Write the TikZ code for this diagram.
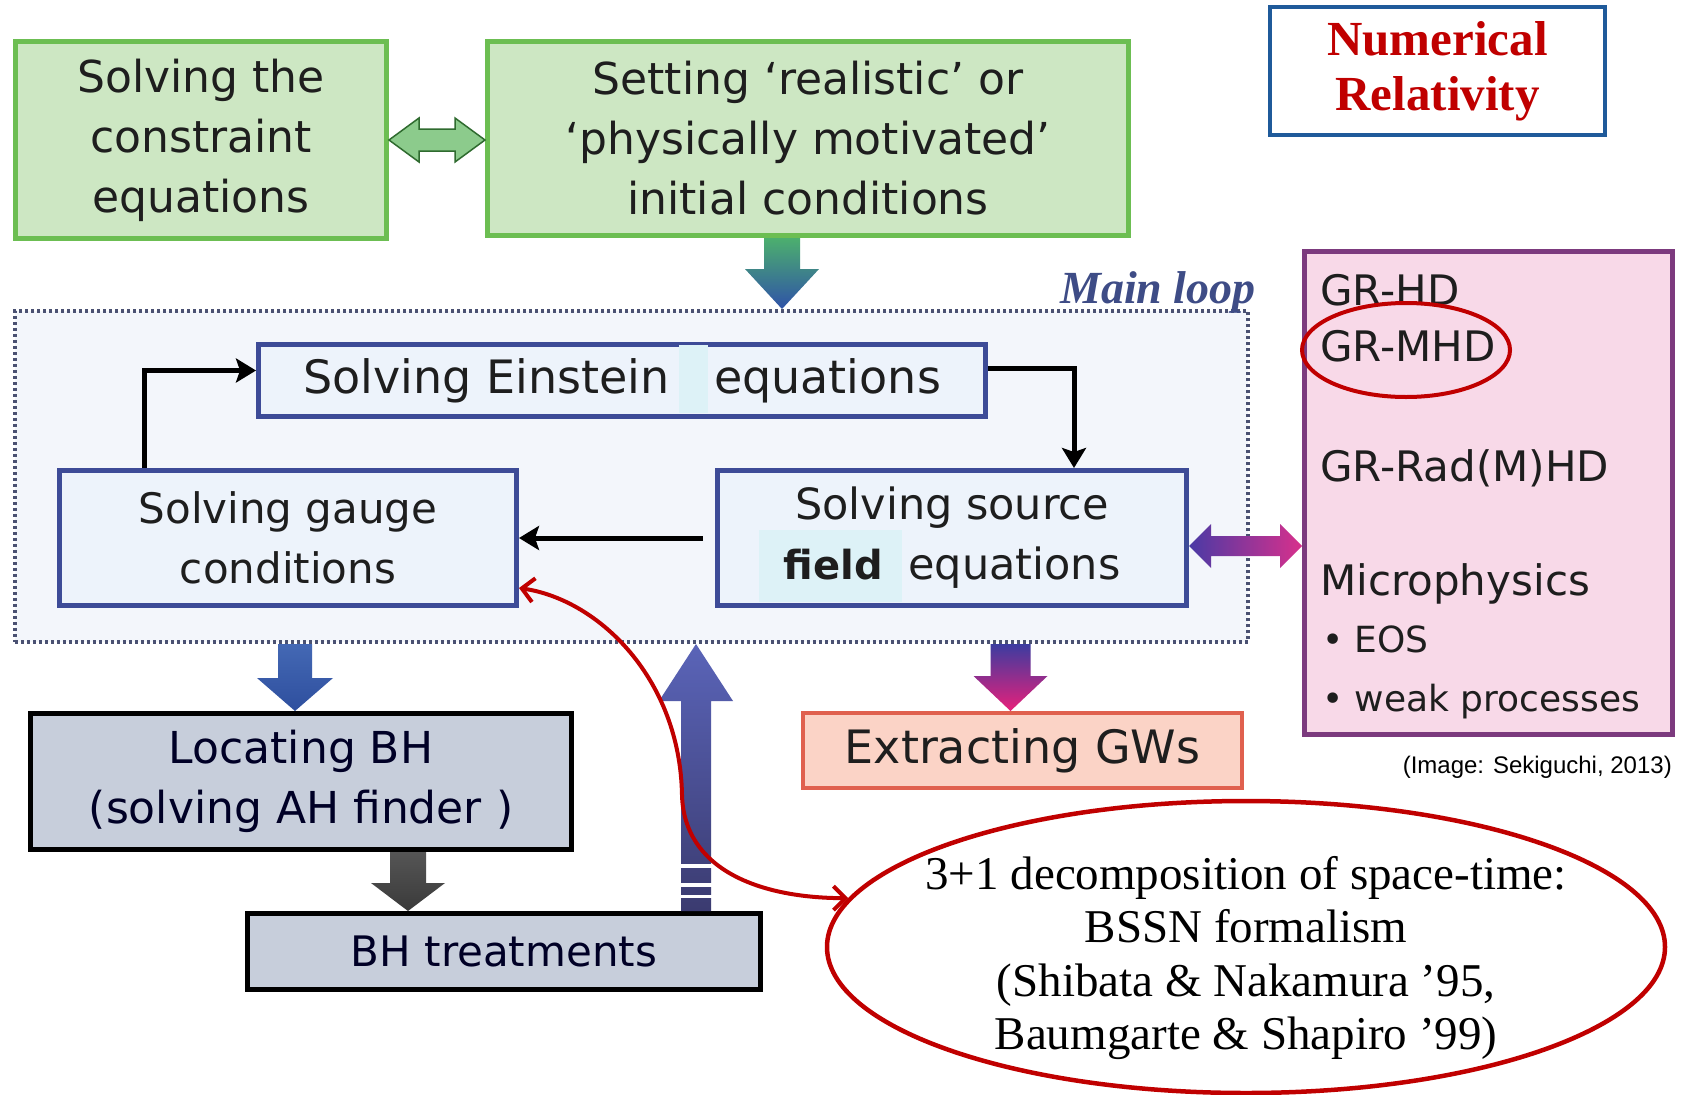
\documentclass[tikz,border=0pt]{standalone}
\usepackage{fontspec}
\usetikzlibrary{shapes.geometric,arrows.meta,calc}
\newfontfamily\comicf{DejaVu Sans}
\newfontfamily\serf{Liberation Serif}
\newfontfamily\arialf{Liberation Sans}
\definecolor{gfill}{HTML}{CDE7C3}
\definecolor{gdraw}{HTML}{6CBE52}
\definecolor{bfill}{HTML}{EDF3FB}
\definecolor{bdraw}{HTML}{3D4B97}
\definecolor{loopfill}{HTML}{F3F6FB}
\definecolor{loopdraw}{HTML}{4A5172}
\definecolor{pfill}{HTML}{F8D9E8}
\definecolor{pdraw}{HTML}{7C3A7E}
\definecolor{grayfill}{HTML}{C7CEDB}
\definecolor{gwfill}{HTML}{FBD3C6}
\definecolor{gwdraw}{HTML}{E0604E}
\definecolor{nrred}{HTML}{C00000}
\definecolor{nrblue}{HTML}{1F5A9A}
\definecolor{patchc}{HTML}{DDF2F7}
\definecolor{txt}{HTML}{1E1E1E}
\definecolor{mainloopc}{HTML}{3E4C86}
\definecolor{agreen}{HTML}{4CAF6E}
\definecolor{ablue}{HTML}{2F52A8}
\definecolor{ablue2}{HTML}{4468B4}
\definecolor{ablue3}{HTML}{2E4F9E}
\definecolor{agray1}{HTML}{555555}
\definecolor{agray2}{HTML}{3A3A3A}
\definecolor{apurp1}{HTML}{5A64B8}
\definecolor{apurp2}{HTML}{3B3B70}
\definecolor{amag1}{HTML}{3C3CA0}
\definecolor{amag2}{HTML}{E8207A}
\definecolor{dgfill}{HTML}{8CCB8C}
\definecolor{dgdraw}{HTML}{2F6B2F}
\definecolor{dml}{HTML}{4A3AA5}
\definecolor{dmr}{HTML}{D8308C}

\newcommand\blockdown[7]{\shade[#7] let \p1=(#1),\p2=(#2),\p3=(#3) in
  (\x1-#4,\y2) -- (\x1+#4,\y2) -- (\x1+#4,\y3+#6) -- (\x1+#5,\y3+#6) -- (\x1,\y3)
  -- (\x1-#5,\y3+#6) -- (\x1-#4,\y3+#6) -- cycle;}
\newcommand\blockup[7]{\shade[#7] let \p1=(#1),\p2=(#2),\p3=(#3) in
  (\x1-#4,\y2) -- (\x1+#4,\y2) -- (\x1+#4,\y3-#6) -- (\x1+#5,\y3-#6) -- (\x1,\y3)
  -- (\x1-#5,\y3-#6) -- (\x1-#4,\y3-#6) -- cycle;}
\newcommand\blockdouble[6]{\shadedraw[#6] let \p1=(#1),\p2=(#2) in
  (\x1,\y1) -- (\x1+#5,\y1+#4) -- (\x1+#5,\y1+#3) -- (\x2-#5,\y1+#3) -- (\x2-#5,\y1+#4)
  -- (\x2,\y1) -- (\x2-#5,\y1-#4) -- (\x2-#5,\y1-#3) -- (\x1+#5,\y1-#3) -- (\x1+#5,\y1-#4) -- cycle;}

\tikzset{
  box/.style={rectangle, inner sep=0pt, line width=5pt, align=center, text=txt,
    font=\comicf\fontsize{43}{60}\selectfont},
  greenbox/.style={box, fill=gfill, draw=gdraw},
  bluebox/.style={box, fill=bfill, draw=bdraw},
  graybox/.style={box, fill=grayfill, draw=black, text=black!85!blue},
  gwbox/.style={box, fill=gwfill, draw=gwdraw, line width=4pt},
  pinkbox/.style={box, fill=pfill, draw=pdraw},
  loopbox/.style={rectangle, inner sep=0pt, fill=loopfill, draw=loopdraw, line width=4pt,
    dash pattern=on 3pt off 3pt},
  pinktext/.style={anchor=base west, inner sep=0pt, text=txt, font=\comicf\fontsize{42}{50}\selectfont},
  pinkbullet/.style={pinktext, font=\comicf\fontsize{36}{50}\selectfont},
  conn/.style={line width=5pt, black, -{Stealth[length=20pt,width=24pt,inset=4pt]}},
  redarrow/.style={nrred, line width=4pt,
    {Straight Barb[length=12pt,width=24pt]}-{Straight Barb[length=12pt,width=24pt]}},
}

\begin{document}
\begin{tikzpicture}[x=1pt,y=-1pt]
\useasboundingbox (0,0) rectangle (1684,1095);
\fill[white] (0,0) rectangle (1684,1095);

% main loop region
\node[loopbox, minimum width=1233pt, minimum height=331pt] (loop) at (631.5,476.5) {};
\node[font=\serf\bfseries\itshape\fontsize{46}{50}\selectfont, text=mainloopc, inner sep=0pt] (mainlbl) at (1158,292) {Main loop};

% top green boxes
\node[greenbox, minimum width=371pt, minimum height=197pt, font=\comicf\fontsize{44}{60}\selectfont] (c1) at (201,140) {Solving the\\constraint\\equations};
\node[greenbox, minimum width=641pt, minimum height=194pt, font=\comicf\fontsize{44}{60}\selectfont] (c2) at (808,138.5) {Setting ‘realistic’ or\\‘physically motivated’\\initial conditions};

% title
\node[draw=nrblue, line width=4pt, fill=white, minimum width=335pt, minimum height=128pt, inner sep=0pt,
  align=center, text=nrred, font=\serf\bfseries\fontsize{49}{55}\selectfont] (title) at (1437.5,71) {Numerical\\Relativity};

% loop boxes
\node[bluebox, minimum width=727pt, minimum height=72pt] (ein) at (622,380.5) {};
\fill[patchc] (679,345) rectangle (708,413);
\node[text=txt, inner sep=0pt, font=\comicf\fontsize{46}{60}\selectfont] (eintext) at (ein.center) {Solving Einstein\hspace{30pt} equations};

\node[bluebox, minimum width=457pt, minimum height=135pt, font=\comicf\fontsize{42}{60}\selectfont] (gauge) at (288,538) {Solving gauge\\conditions};

\node[bluebox, minimum width=469pt, minimum height=135pt] (src) at (952,538) {};
\fill[patchc] (759,530) rectangle (902,602);
\node[text=txt, inner sep=0pt, align=center, font=\comicf\fontsize{43}{60}\selectfont] (srctext) at (src.center)
  {Solving source\\{\bfseries\fontsize{40}{60}\selectfont field}\hspace{12pt} equations};

% pink box
\node[pinkbox, minimum width=368pt, minimum height=483pt] (pink) at (1488.5,493) {};
\node[pinktext] (pk1) at (1320,305) {GR-HD};
\node[pinktext] (pk2) at (1320,361) {GR-MHD};
\node[pinktext] (pk3) at (1320,481) {GR-Rad(M)HD};
\node[pinktext] (pk4) at (1320,595) {Microphysics};
\node[pinkbullet] (pk5) at (1322,652) {• EOS};
\node[pinkbullet] (pk6) at (1322,711) {• weak processes};
\node[draw=nrred, line width=4pt, ellipse, minimum width=208pt, minimum height=94pt, inner sep=0pt] (mhdring) at (1406,350) {};

\node[anchor=east, inner sep=0pt, font=\arialf\fontsize{24}{28}\selectfont] (credit) at (1672,767) {(Image: Sekiguchi, 2013)};

% lower boxes
\node[graybox, minimum width=541pt, minimum height=136pt, font=\comicf\fontsize{44}{60}\selectfont] (loc) at (301,781.5) {Locating BH\\(solving AH finder )};
\node[graybox, minimum width=513pt, minimum height=76pt, font=\comicf\fontsize{42}{60}\selectfont] (bht) at (504,951.5) {BH treatments};
\node[gwbox, minimum width=439pt, minimum height=75pt, font=\comicf\fontsize{46}{60}\selectfont] (gw) at (1022.5,750.5) {Extracting GWs};

% block arrows
\blockdouble{c1.east}{c2.west}{11pt}{22pt}{30pt}{left color=dgfill, right color=dgfill, draw=dgdraw, line width=1.5pt}
\blockdouble{[yshift=-8pt]src.east}{pink.west}{10pt}{22pt}{22pt}{left color=dml, right color=dmr, draw=none}
\blockdown{[xshift=297pt]c2.south west}{c2.south}{loop.north}{18pt}{37pt}{40pt}{top color=agreen, bottom color=ablue}
\blockdown{[xshift=-6pt]loc.north}{loop.south}{loc.north}{17pt}{38pt}{33pt}{top color=ablue2, bottom color=ablue3}
\blockdown{[xshift=163pt]bht.north west}{loc.south}{bht.north}{18pt}{37pt}{28pt}{top color=agray1, bottom color=agray2}
\blockup{[xshift=-67pt]bht.north east}{bht.north}{loop.south}{15pt}{37pt}{57pt}{top color=apurp1, bottom color=apurp2}
\fill[white] ([xshift=-86pt,yshift=47pt]bht.north east) rectangle ([xshift=-48pt,yshift=43pt]bht.north east);
\fill[white] ([xshift=-86pt,yshift=28pt]bht.north east) rectangle ([xshift=-48pt,yshift=24pt]bht.north east);
\fill[white] ([xshift=-86pt,yshift=16pt]bht.north east) rectangle ([xshift=-48pt,yshift=13pt]bht.north east);
\blockdown{[xshift=-12pt]gw.north}{loop.south}{gw.north}{20pt}{37pt}{35pt}{top color=amag1, bottom color=amag2}

% black connectors
\draw[conn] ([xshift=87pt]gauge.north west) |- ([yshift=10pt]ein.west);
\draw[conn] ([yshift=12pt]ein.east) -| ([xshift=359pt]src.north west);
\draw[conn] ([xshift=-12pt]src.west) -- (gauge.east);

% BSSN ellipse
\node[draw=nrred, line width=4.5pt, ellipse, minimum width=838pt, minimum height=292pt, inner sep=0pt] (bssn) at (1246,947) {};
\node[align=center, inner sep=0pt, text=black, font=\serf\fontsize{47}{53.5}\selectfont] (bssntext) at (1246,958)
  {3+1 decomposition of space-time:\\BSSN formalism\\(Shibata \& Nakamura ’95,\\Baumgarte \& Shapiro ’99)};

\draw[redarrow] ([yshift=20pt]gauge.south east) .. controls (600,600) and (680,680) .. (682,795)
  .. controls (684,870) and (760,898) .. (bssn.173);
\end{tikzpicture}
\end{document}
